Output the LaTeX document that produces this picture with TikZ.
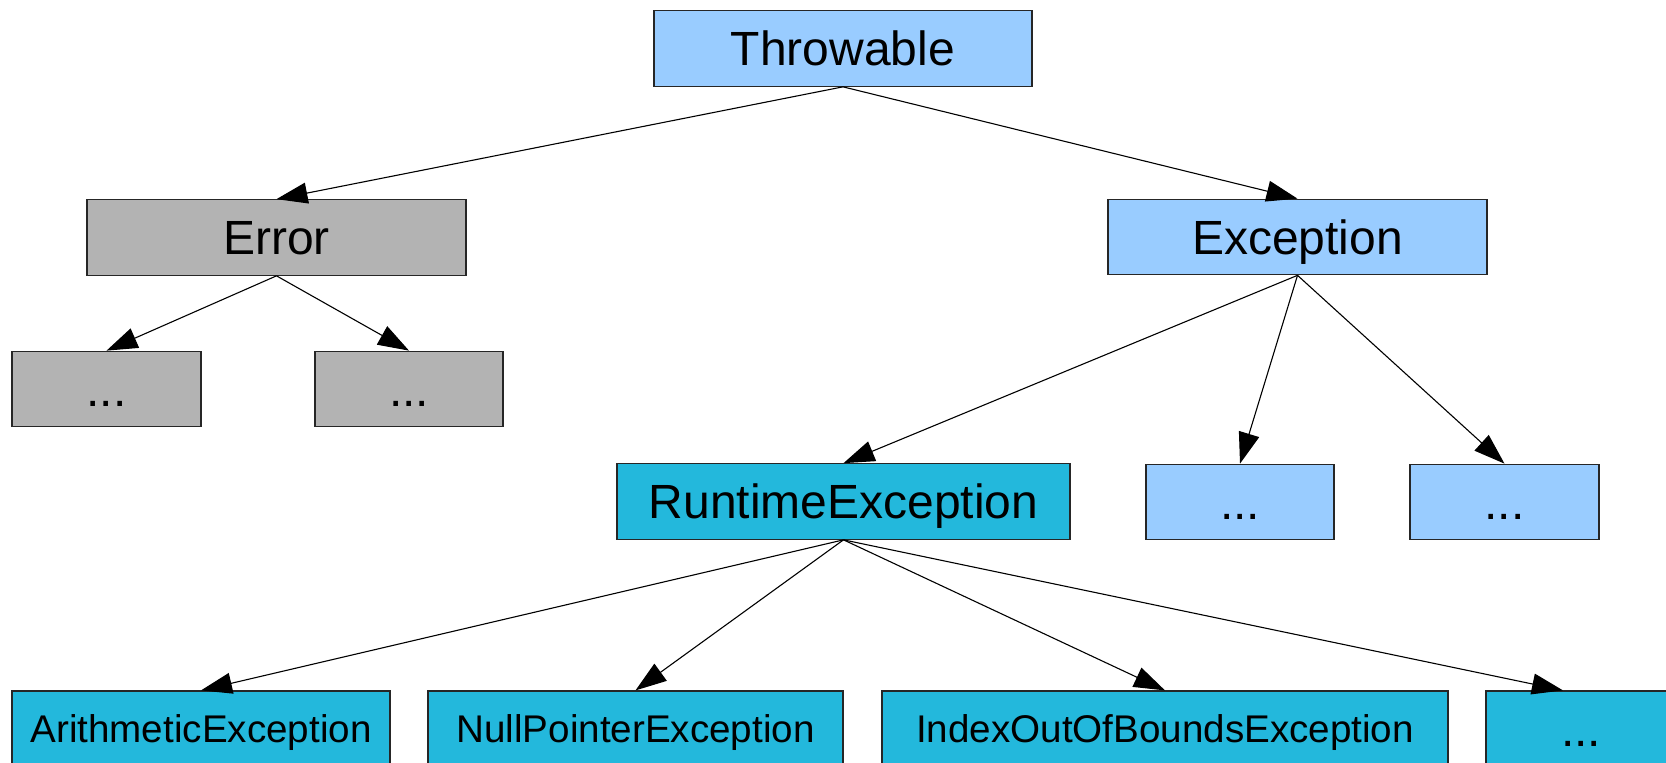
\documentclass[tikz,border=0pt]{standalone}
\usepackage{fontspec}
\setmainfont{Liberation Sans}
\usetikzlibrary{arrows.meta}
\definecolor{paleblue}{HTML}{99CCFF}
\definecolor{greybox}{HTML}{B3B3B3}
\definecolor{cyanbox}{HTML}{23B8DC}
\tikzset{
  box/.style={draw=black!85, line width=0.6pt, inner sep=0pt, text height=17.2pt, text depth=0pt,
    font=\fontsize{24}{28}\selectfont, minimum height=37.75pt},
  smallbox/.style={box, text height=13.8pt, font=\fontsize{19.3}{23}\selectfont, minimum height=38pt},
  pb/.style={box, fill=paleblue},
  gb/.style={box, fill=greybox},
  cb/.style={box, fill=cyanbox},
  cbs/.style={smallbox, fill=cyanbox},
  conn/.style={line width=0.55pt, -{Triangle[length=15.5pt, width=10.5pt]}}
}
\begin{document}
\begin{tikzpicture}[x=0.5pt, y=-0.5pt]
\useasboundingbox (0,0) rectangle (1666,763);
\node[pb, minimum width=189pt] (thr) at (843,48.5) {Throwable};
\node[gb, minimum width=189.5pt] (err) at (276.5,237.5) {Error};
\node[gb, minimum width=94.5pt] (e1) at (106.5,389) {...};
\node[gb, minimum width=94pt] (e2) at (409,389) {...};
\node[pb, minimum width=189.5pt] (exc) at (1297.5,237) {Exception};
\node[cb, minimum width=226.5pt] (rt) at (843.5,501.5) {RuntimeException};
\node[pb, minimum width=94pt] (x1) at (1240,502) {...};
\node[pb, minimum width=94.5pt] (x2) at (1504.5,502) {...};
\node[cbs, minimum width=189pt] (ar) at (201,729) {ArithmeticException};
\node[cbs, minimum width=207.5pt] (np) at (635.5,729) {NullPointerException};
\node[cbs, minimum width=283pt] (io) at (1165,729) {IndexOutOfBoundsException};
\node[cb, minimum width=95pt, minimum height=38pt] (last) at (1581,729) {...};
\draw[conn] (thr.south) -- (err.north);
\draw[conn] (thr.south) -- (exc.north);
\draw[conn] (err.south) -- (e1.north);
\draw[conn] (err.south) -- (e2.north);
\draw[conn] (exc.south) -- (rt.north);
\draw[conn] (exc.south) -- (x1.north);
\draw[conn] (exc.south) -- (x2.north);
\draw[conn] (rt.south) -- (ar.north);
\draw[conn] (rt.south) -- (np.north);
\draw[conn] (rt.south) -- (io.north);
\draw[conn] (rt.south) -- ([xshift=-9pt]last.north);
\end{tikzpicture}
\end{document}
